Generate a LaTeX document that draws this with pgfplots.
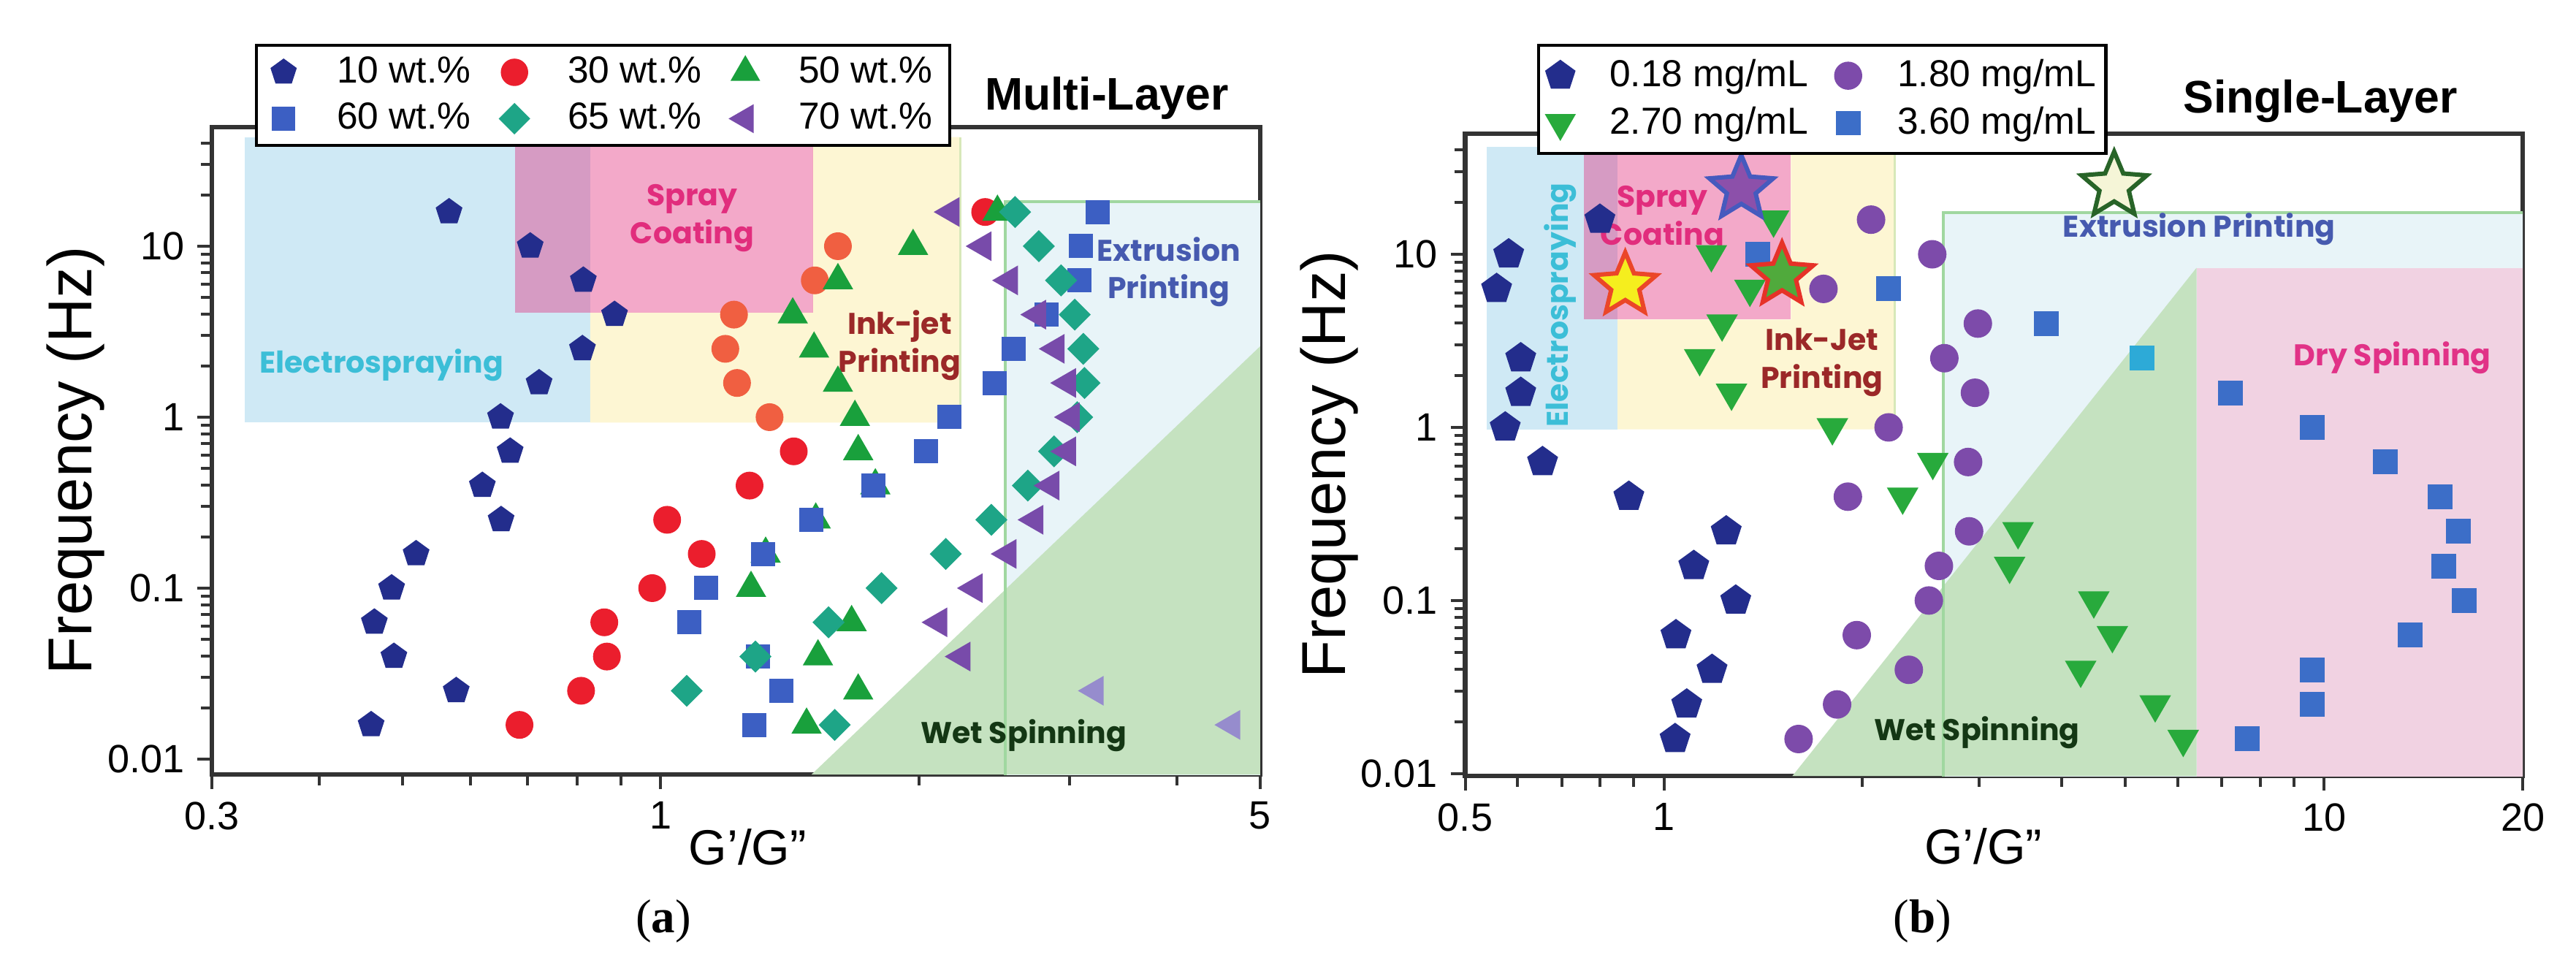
\documentclass[border=0pt]{standalone}
\usepackage{fontspec}
\setmainfont{Liberation Sans}
\newfontfamily\geo{Poppins}
\newfontfamily\capfont{Liberation Serif}
\usepackage{pgfplots}
\pgfplotsset{compat=1.18}
\usetikzlibrary{plotmarks}

% filled five-pointed star
\pgfdeclareplotmark{fstar}{%
  \pgfpathmoveto{\pgfqpointpolar{90}{\pgfplotmarksize}}%
  \pgfpathlineto{\pgfqpointpolar{126}{0.45\pgfplotmarksize}}%
  \pgfpathlineto{\pgfqpointpolar{162}{\pgfplotmarksize}}%
  \pgfpathlineto{\pgfqpointpolar{198}{0.45\pgfplotmarksize}}%
  \pgfpathlineto{\pgfqpointpolar{234}{\pgfplotmarksize}}%
  \pgfpathlineto{\pgfqpointpolar{270}{0.45\pgfplotmarksize}}%
  \pgfpathlineto{\pgfqpointpolar{306}{\pgfplotmarksize}}%
  \pgfpathlineto{\pgfqpointpolar{342}{0.45\pgfplotmarksize}}%
  \pgfpathlineto{\pgfqpointpolar{18}{\pgfplotmarksize}}%
  \pgfpathlineto{\pgfqpointpolar{54}{0.45\pgfplotmarksize}}%
  \pgfpathclose
  \pgfusepathqfillstroke}

% series colours
\definecolor{cNavy}{RGB}{35,45,140}
\definecolor{cRed}{RGB}{235,30,45}
\definecolor{cOrange}{RGB}{240,95,65}
\definecolor{cGreen}{RGB}{25,160,60}
\definecolor{cBlue}{RGB}{60,95,195}
\definecolor{cTeal}{RGB}{30,165,135}
\definecolor{cPurple}{RGB}{120,75,170}
\definecolor{cLav}{RGB}{150,140,205}
\definecolor{cPurpleB}{RGB}{125,75,170}
\definecolor{cGreenB}{RGB}{40,170,60}
\definecolor{cBlueB}{RGB}{60,110,200}
\definecolor{cCyan}{RGB}{45,170,215}
% regions
\definecolor{rBlue}{RGB}{207,233,245}
\definecolor{rPinkOv}{RGB}{225,40,120}
\definecolor{rYellow}{RGB}{253,246,211}
\definecolor{rYellowEdge}{RGB}{215,232,185}
\definecolor{rExt}{RGB}{232,244,248}
\definecolor{rExtEdge}{RGB}{160,215,160}
\definecolor{rWet}{RGB}{197,226,192}
\definecolor{rDryOv}{RGB}{255,161,195}
% region labels
\definecolor{tElec}{RGB}{60,190,215}
\definecolor{tSpray}{RGB}{225,45,125}
\definecolor{tInk}{RGB}{155,40,40}
\definecolor{tExt}{RGB}{70,90,175}
\definecolor{tWet}{RGB}{20,55,20}
\definecolor{tDry}{RGB}{225,50,135}
\definecolor{starP}{RGB}{140,80,170}
\definecolor{starPe}{RGB}{70,90,190}
\definecolor{starY}{RGB}{245,238,30}
\definecolor{starYe}{RGB}{235,70,40}
\definecolor{starG}{RGB}{80,170,60}
\definecolor{starGe}{RGB}{230,50,40}
\definecolor{starW}{RGB}{245,245,215}
\definecolor{starWe}{RGB}{40,100,40}

\newcommand{\regfont}{\geo\bfseries\fontsize{8.2}{10.3}\selectfont}

\begin{document}
\begin{tikzpicture}
\path[use as bounding box] (0,0) rectangle (705.2pt,265.6pt);

% ---------------- (a) Multi-Layer ----------------
\begin{axis}[
  scale only axis, xmode=log, ymode=log,
  at={(58pt,53.6pt)}, anchor=south west, width=287pt, height=177.2pt,
  xmin=0.3, xmax=5, ymin=0.00813, ymax=49.7,
  axis line style={line width=1.3pt, black!80},
  tick align=outside, tick pos=left,
  major tick length=4pt, minor tick length=3pt,
  tick style={line width=0.8pt, black!80},
  xtick={0.3,1,5}, xticklabels={0.3,1,5},
  minor xtick={0.4,0.5,0.6,0.7,0.8,0.9,2,3,4},
  ytick={0.01,0.1,1,10}, yticklabels={0.01,0.1,1,10},
  minor ytick={0.02,0.03,0.04,0.05,0.06,0.07,0.08,0.09,0.2,0.3,0.4,0.5,0.6,0.7,0.8,0.9,2,3,4,5,6,7,8,9,20,30,40},
  ticklabel style={font=\fontsize{10.8}{12}\selectfont},
  xlabel={G’/G”}, ylabel={Frequency (Hz)},
  xlabel style={at={(axis description cs:0.511,-0.1117)}, anchor=center, font=\fontsize{13.5}{15}\selectfont},
  ylabel style={at={(axis description cs:-0.1296,0.485)}, anchor=center, font=\fontsize{17}{20}\selectfont},
  legend cell align=left, legend columns=3,
  legend image code/.code={\path[draw=none,fill=none] (-5pt,-4pt) rectangle (5pt,4pt); \draw[#1, line width=0.3pt] plot coordinates {(0pt,0pt)};},
  legend style={at={(0.0411,1.1287)}, anchor=north west, draw=black, line width=0.9pt, fill=white,
    font=\fontsize{10.3}{12}\selectfont, inner xsep=2.4pt, inner ysep=1pt,
    /tikz/every odd column/.append style={column sep=7.6pt},
    /tikz/every even column/.append style={column sep=4.6pt}}]

\addplot[draw=none, forget plot, fill=rBlue] coordinates {(0.3275,0.93)(0.828,0.93)(0.828,43.5)(0.3275,43.5)} -- cycle;
\addplot[draw=none, forget plot, fill=rYellow] coordinates {(0.828,0.93)(2.237,0.93)(2.237,43.5)(1.505,43.5)(1.505,4.09)(0.828,4.09)} -- cycle;
\addplot[draw=none, forget plot, fill=rExt] coordinates {(2.52,0.001)(8,0.001)(8,18.2)(2.52,18.2)} -- cycle;
\addplot[draw=none, forget plot, fill=rWet] coordinates {(1.50,0.00813)(5,2.6)(5,0.00813)} -- cycle;
\addplot[forget plot, draw=rExtEdge, line width=0.8pt] coordinates {(2.52,0.001)(2.52,18.2)(8,18.2)};
\addplot[forget plot, draw=rYellowEdge, line width=0.6pt] coordinates {(2.237,0.93)(2.237,43.5)};

\addplot[only marks, mark=pentagon*, mark size=3.6pt, color=cNavy] coordinates {
 (0.567,15.85)(0.705,10)(0.813,6.31)(0.884,3.98)(0.811,2.51)(0.722,1.585)(0.651,1)(0.668,0.631)
 (0.62,0.398)(0.652,0.251)(0.519,0.1585)(0.486,0.1)(0.464,0.0631)(0.489,0.0398)(0.578,0.0251)(0.46,0.01585)};
\addlegendentry{\makebox[37pt][l]{10 wt.\%}}
\addplot[only marks, mark=*, mark size=3.6pt, color=cRed] coordinates {
 (2.39,15.85)(1.43,0.631)(1.27,0.398)(1.018,0.251)(1.117,0.1585)(0.978,0.1)(0.86,0.0631)(0.866,0.0398)(0.808,0.0251)(0.685,0.01585)};
\addlegendentry{\makebox[37pt][l]{30 wt.\%}}
\addplot[only marks, forget plot, mark=*, mark size=3.6pt, color=cOrange] coordinates {
 (1.61,10)(1.513,6.31)(1.218,3.98)(1.19,2.51)(1.228,1.585)(1.34,1)};
\addplot[only marks, mark=triangle*, mark size=4.4pt, color=cGreen] coordinates {
 (2.47,15.85)(1.97,10)(1.61,6.31)(1.426,3.98)(1.51,2.51)(1.61,1.585)(1.685,1)(1.70,0.631)
 (1.78,0.398)(1.517,0.251)(1.326,0.1585)(1.275,0.1)(1.67,0.0631)(1.526,0.0398)(1.70,0.0251)(1.48,0.01585)};
\addlegendentry{\makebox[37pt][l]{50 wt.\%}}
\addplot[only marks, mark=square*, mark size=3.1pt, color=cBlue] coordinates {
 (3.23,15.85)(3.09,10)(3.08,6.31)(2.82,3.98)(2.58,2.51)(2.45,1.585)(2.17,1)(2.04,0.631)
 (1.77,0.398)(1.50,0.251)(1.318,0.1585)(1.13,0.1)(1.08,0.0631)(1.30,0.0398)(1.384,0.0251)(1.286,0.01585)};
\addlegendentry{\makebox[37pt][l]{60 wt.\%}}
\addplot[only marks, mark=square*, mark size=2.9pt, mark options={rotate=45}, color=cTeal] coordinates {
 (2.59,15.85)(2.76,10)(2.93,6.31)(3.04,3.98)(3.11,2.51)(3.12,1.585)(3.06,1)(2.875,0.631)
 (2.68,0.398)(2.43,0.251)(2.15,0.1585)(1.81,0.1)(1.57,0.0631)(1.29,0.0398)(1.073,0.0251)(1.596,0.01585)};
\addlegendentry{\makebox[37pt][l]{65 wt.\%}}
\addplot[only marks, mark=triangle*, mark size=4.3pt, mark options={rotate=90}, color=cPurple] coordinates {
 (2.18,15.85)(2.375,10)(2.55,6.31)(2.75,3.98)(2.89,2.51)(2.98,1.585)(3.01,1)(2.98,0.631)
 (2.85,0.398)(2.73,0.251)(2.54,0.1585)(2.32,0.1)(2.11,0.0631)(2.245,0.0398)};
\addlegendentry{\makebox[37pt][l]{70 wt.\%}}
\addplot[only marks, forget plot, mark=triangle*, mark size=4.3pt, mark options={rotate=90}, color=cLav] coordinates {
 (3.21,0.0251)(4.63,0.01585)};

\addplot[draw=none, forget plot, fill=rPinkOv, fill opacity=0.4] coordinates {(0.677,4.09)(1.505,4.09)(1.505,43.5)(0.677,43.5)} -- cycle;

\node[font=\regfont, text=tElec] at (axis cs:0.473,2.01) {Electrospraying};
\node[font=\regfont, text=tSpray, align=center] at (axis cs:1.089,14.6) {Spray\\Coating};
\node[font=\regfont, text=tInk, align=center] at (axis cs:1.90,2.63) {Ink-jet\\Printing};
\node[font=\regfont, text=tExt, align=center] at (axis cs:3.91,7.06) {Extrusion\\Printing};
\node[font=\regfont, text=tWet] at (axis cs:2.65,0.01374) {Wet Spinning};
\end{axis}

% ---------------- (b) Single-Layer ----------------
\begin{axis}[
  scale only axis, xmode=log, ymode=log,
  at={(401.1pt,53.2pt)}, anchor=south west, width=289.5pt, height=175.8pt,
  xmin=0.5, xmax=20, ymin=0.0097, ymax=49.7,
  axis line style={line width=1.3pt, black!80},
  tick align=outside, tick pos=left,
  major tick length=4pt, minor tick length=3pt,
  tick style={line width=0.8pt, black!80},
  xtick={0.5,1,10,20}, xticklabels={0.5,1,10,20},
  minor xtick={0.6,0.7,0.8,0.9,2,3,4,5,6,7,8,9},
  ytick={0.01,0.1,1,10}, yticklabels={0.01,0.1,1,10},
  minor ytick={0.02,0.03,0.04,0.05,0.06,0.07,0.08,0.09,0.2,0.3,0.4,0.5,0.6,0.7,0.8,0.9,2,3,4,5,6,7,8,9,20,30,40},
  ticklabel style={font=\fontsize{10.8}{12}\selectfont},
  xlabel={G’/G”}, ylabel={Frequency (Hz)},
  xlabel style={at={(axis description cs:0.490,-0.110)}, anchor=center, font=\fontsize{13.5}{15}\selectfont},
  ylabel style={at={(axis description cs:-0.1288,0.485)}, anchor=center, font=\fontsize{17}{20}\selectfont},
  legend cell align=left, legend columns=2,
  legend image code/.code={\path[draw=none,fill=none] (-5pt,-4pt) rectangle (5pt,4pt); \draw[#1, line width=0.3pt] plot coordinates {(0pt,0pt)};},
  legend style={at={(0.0677,1.14)}, anchor=north west, draw=black, line width=0.9pt, fill=white,
    font=\fontsize{10.3}{12}\selectfont, inner xsep=1pt, inner ysep=1.8pt,
    /tikz/every odd column/.append style={column sep=6.5pt},
    /tikz/every even column/.append style={column sep=4.3pt}}]

\addplot[draw=none, forget plot, fill=rBlue] coordinates {(0.5384,0.975)(0.851,0.975)(0.851,41.7)(0.5384,41.7)} -- cycle;
\addplot[draw=none, forget plot, fill=rYellow] coordinates {(0.851,0.975)(2.235,0.975)(2.235,41.7)(1.558,41.7)(1.558,4.2)(0.851,4.2)} -- cycle;
\addplot[draw=none, forget plot, fill=rExt] coordinates {(2.65,0.001)(30,0.001)(30,17.4)(2.65,17.4)} -- cycle;
\addplot[draw=none, forget plot, fill=rWet] coordinates {(1.566,0.0097)(6.41,8.35)(6.41,0.0097)} -- cycle;
\addplot[forget plot, draw=rExtEdge, line width=0.8pt] coordinates {(2.65,0.001)(2.65,17.4)(30,17.4)};
\addplot[forget plot, draw=rYellowEdge, line width=0.6pt] coordinates {(2.235,0.975)(2.235,41.7)};

\addplot[only marks, mark=pentagon*, mark size=4.2pt, color=cNavy] coordinates {
 (0.80,15.85)(0.582,10)(0.558,6.31)(0.607,2.51)(0.607,1.585)(0.575,1)(0.655,0.631)(0.885,0.398)
 (1.243,0.251)(1.11,0.1585)(1.285,0.1)(1.043,0.0631)(1.183,0.0398)(1.083,0.0251)(1.04,0.01585)};
\addlegendentry{\makebox[54pt][l]{0.18 mg/mL}}
\addplot[only marks, mark=*, mark size=3.7pt, color=cPurpleB] coordinates {
 (2.06,15.85)(2.55,10)(1.745,6.31)(2.99,3.98)(2.66,2.51)(2.96,1.585)(2.19,1)(2.89,0.631)
 (1.90,0.398)(2.90,0.251)(2.61,0.1585)(2.52,0.1)(1.96,0.0631)(2.35,0.0398)(1.83,0.0251)(1.60,0.01585)};
\addlegendentry{\makebox[54pt][l]{1.80 mg/mL}}
\addplot[only marks, mark=triangle*, mark size=4.6pt, mark options={rotate=180}, color=cGreenB] coordinates {
 (1.466,15.85)(1.18,10)(1.35,6.31)(1.225,3.98)(1.133,2.51)(1.266,1.585)(1.80,1)(2.555,0.631)
 (2.30,0.398)(3.44,0.251)(3.34,0.1585)(4.48,0.1)(4.78,0.0631)(4.28,0.0398)(5.55,0.0251)(6.12,0.01585)};
\addlegendentry{\makebox[54pt][l]{2.70 mg/mL}}
\addplot[only marks, mark=square*, mark size=3.2pt, color=cBlueB] coordinates {
 (1.387,10)(2.19,6.31)(3.80,3.98)(7.22,1.585)(9.59,1)(12.38,0.631)(15.0,0.398)
 (16.0,0.251)(15.2,0.1585)(16.3,0.1)(13.5,0.0631)(9.59,0.0398)(9.59,0.0251)(7.65,0.01585)};
\addlegendentry{\makebox[54pt][l]{3.60 mg/mL}}
\addplot[only marks, forget plot, mark=square*, mark size=3.2pt, color=cCyan] coordinates {(5.30,2.51)};

\addplot[draw=none, forget plot, fill=rPinkOv, fill opacity=0.4] coordinates {(0.7573,4.2)(1.558,4.2)(1.558,41.7)(0.7573,41.7)} -- cycle;
\addplot[draw=none, forget plot, fill=rDryOv, fill opacity=0.4] coordinates {(6.41,0.001)(30,0.001)(30,8.35)(6.41,8.35)} -- cycle;

\addplot[only marks, forget plot, mark=fstar, mark size=9.2pt, mark options={fill=starP, draw=starPe, line width=1.2pt}] coordinates {(1.31,23.9)};
\addplot[only marks, forget plot, mark=fstar, mark size=9pt, mark options={fill=starY, draw=starYe, line width=1.2pt}] coordinates {(0.874,6.62)};
\addplot[only marks, forget plot, mark=fstar, mark size=9pt, mark options={fill=starG, draw=starGe, line width=1.2pt}] coordinates {(1.51,7.54)};
\addplot[only marks, forget plot, mark=fstar, mark size=9.4pt, mark options={fill=starW, draw=starWe, line width=1.2pt}] coordinates {(4.81,24.8)};

\node[font=\regfont, text=tElec, rotate=90] at (axis cs:0.696,5.1) {Electrospraying};
\node[font=\regfont, text=tSpray, align=center] at (axis cs:0.995,15.85) {Spray\\Coating};
\node[font=\regfont, text=tInk, align=center] at (axis cs:1.736,2.38) {Ink-Jet\\Printing};
\node[font=\regfont, text=tExt] at (axis cs:6.47,14.0) {Extrusion Printing};
\node[font=\regfont, text=tDry] at (axis cs:12.7,2.52) {Dry Spinning};
\node[font=\regfont, text=tWet] at (axis cs:2.98,0.01718) {Wet Spinning};
\end{axis}

% titles and panel captions
\node[font=\bfseries\fontsize{12.5}{14}\selectfont] at (303pt,238.8pt) {Multi-Layer};
\node[font=\bfseries\fontsize{12.5}{14}\selectfont] at (635.2pt,238pt) {Single-Layer};
\node[font=\capfont\fontsize{13}{15}\selectfont] at (181.6pt,13.4pt) {(\textbf{a})};
\node[font=\capfont\fontsize{13}{15}\selectfont] at (526.3pt,13.4pt) {(\textbf{b})};
\end{tikzpicture}
\end{document}
